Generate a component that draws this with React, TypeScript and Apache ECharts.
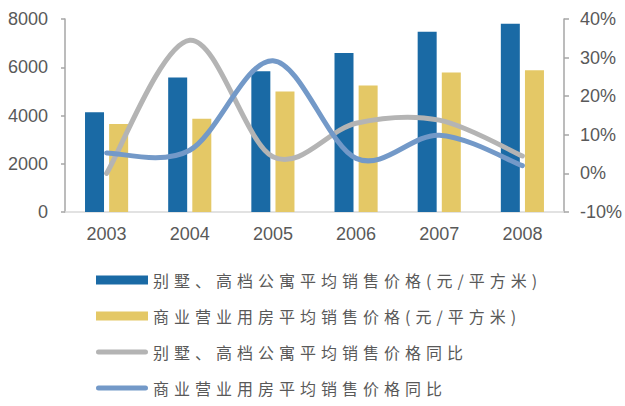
import React, { useEffect, useRef } from "react";
import * as echarts from "echarts";

const categories = ["2003", "2004", "2005", "2006", "2007", "2008"];
const villaPrice = [4130, 5570, 5830, 6590, 7470, 7800];
const commercialPrice = [3650, 3870, 5000, 5240, 5780, 5880];
const villaYoY = [0, 34.5, 4.3, 13.0, 13.8, 4.5];
const commercialYoY = [5.3, 6.0, 29.2, 3.9, 9.9, 2.0];
const leftTicks = { min: 0, max: 8000, interval: 2000 };
const rightTicks = { min: -10, max: 40, interval: 10 };

const names = [
  "别墅、高档公寓平均销售价格(元/平方米)",
  "商业营业用房平均销售价格(元/平方米)",
  "别墅、高档公寓平均销售价格同比",
  "商业营业用房平均销售价格同比",
];

const lineIcon = "path://M2.5,0 L49.5,0 A2.5,2.5 0 0 1 49.5,5 L2.5,5 A2.5,2.5 0 0 1 2.5,0 Z";

// Excel-like smoothed line (Catmull-Rom through the data points), positioned via the axes
function smoothLine(values: number[], color: string) {
  return (params: any, api: any) => {
    if (params.dataIndex !== 0) return null;
    const pts = values.map((v, i) => api.coord([i, v]));
    const n = pts.length;
    let d = `M${pts[0][0]},${pts[0][1]}`;
    for (let i = 0; i < n - 1; i++) {
      const p0 = pts[Math.max(0, i - 1)];
      const p1 = pts[i];
      const p2 = pts[i + 1];
      const p3 = pts[Math.min(n - 1, i + 2)];
      const c1x = p1[0] + (p2[0] - p0[0]) / 6;
      const c1y = p1[1] + (p2[1] - p0[1]) / 6;
      const c2x = p2[0] - (p3[0] - p1[0]) / 6;
      const c2y = p2[1] - (p3[1] - p1[1]) / 6;
      d += ` C${c1x},${c1y} ${c2x},${c2y} ${p2[0]},${p2[1]}`;
    }
    return {
      type: "path",
      shape: { pathData: d },
      style: { stroke: color, lineWidth: 5, fill: "none", lineCap: "round", lineJoin: "round" },
    };
  };
}

export default function App() {
  const ref = useRef<HTMLDivElement>(null);
  useEffect(() => {
    const chart = echarts.init(ref.current!, null, { renderer: "svg" });
    const labelColor = "#595959";
    const font = "'Liberation Sans', Arial, sans-serif";
    const gray = "#B4B4B4";
    const lightBlue = "#7399C8";
    chart.setOption({
      animation: false,
      grid: { left: 65, right: 58, top: 19, bottom: 194 },
      legend: {
        orient: "vertical",
        left: 96,
        top: 272,
        padding: 0,
        itemGap: 20,
        itemWidth: 52,
        itemHeight: 9,
        textStyle: { fontSize: 16, color: labelColor, fontFamily: "'Noto Sans CJK SC'" },
        data: [
          { name: names[0], icon: "rect" },
          { name: names[1], icon: "rect" },
          { name: names[2], icon: lineIcon, itemStyle: { color: gray } },
          { name: names[3], icon: lineIcon, itemStyle: { color: lightBlue } },
        ],
      },
      xAxis: {
        type: "category",
        data: categories,
        axisLine: { lineStyle: { color: "#D9D9D9", width: 1.5 } },
        axisTick: { show: false },
        axisLabel: { color: labelColor, fontSize: 18, margin: 13, fontFamily: font },
      },
      yAxis: [
        {
          type: "value",
          ...leftTicks,
          axisLine: { show: true, lineStyle: { color: "#A6A6A6", width: 1.5 } },
          axisTick: { show: true, length: 4, lineStyle: { color: "#A6A6A6", width: 1.5 } },
          splitLine: { show: false },
          axisLabel: { color: labelColor, fontSize: 18, margin: 17, fontFamily: font, formatter: (v: number) => String(v) },
        },
        {
          type: "value",
          ...rightTicks,
          axisLine: { show: true, lineStyle: { color: "#A6A6A6", width: 1.5 } },
          axisTick: { show: true, length: 5, lineStyle: { color: "#A6A6A6", width: 1.5 } },
          splitLine: { show: false },
          axisLabel: { color: labelColor, fontSize: 18, margin: 16, fontFamily: font, formatter: "{value}%" },
        },
      ],
      series: [
        {
          name: names[0],
          type: "bar",
          data: villaPrice,
          barWidth: 19,
          barGap: "27%",
          itemStyle: { color: "#1A6AA5" },
        },
        {
          name: names[1],
          type: "bar",
          data: commercialPrice,
          barWidth: 19,
          itemStyle: { color: "#E4C866" },
        },
        {
          name: names[2],
          type: "custom",
          yAxisIndex: 1,
          data: villaYoY.map((v, i) => [i, v]),
          encode: { x: 0, y: 1 },
          itemStyle: { color: gray },
          renderItem: smoothLine(villaYoY, gray),
          z: 3,
        },
        {
          name: names[3],
          type: "custom",
          yAxisIndex: 1,
          data: commercialYoY.map((v, i) => [i, v]),
          encode: { x: 0, y: 1 },
          itemStyle: { color: lightBlue },
          renderItem: smoothLine(commercialYoY, lightBlue),
          z: 3,
        },
      ],
    });
    return () => chart.dispose();
  }, []);
  return (
    <>
      <style>{`#chart text[style*="CJK"] { letter-spacing: 5px; }`}</style>
      <div
        id="chart"
        ref={ref}
        style={{ position: "fixed", left: 0, top: 0, width: 625, height: 406, background: "#fff" }}
      />
    </>
  );
}
